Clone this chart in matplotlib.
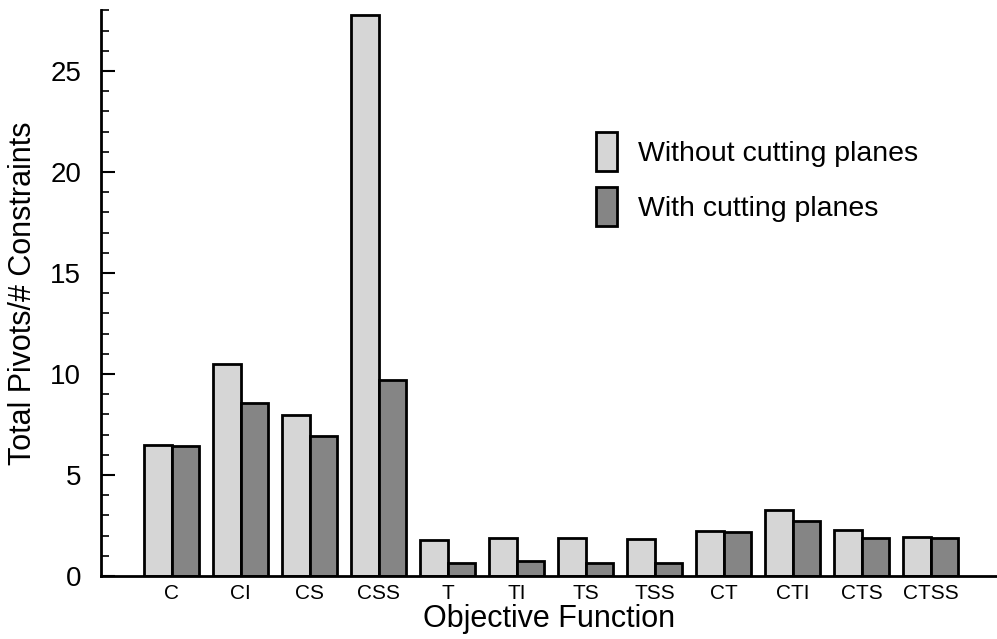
import numpy as np
import matplotlib
matplotlib.use("Agg")
import matplotlib.pyplot as plt
from matplotlib.ticker import MultipleLocator

plt.rcParams['font.family'] = ['Liberation Sans', 'DejaVu Sans']

categories = ["C", "CI", "CS", "CSS", "T", "TI", "TS", "TSS", "CT", "CTI", "CTS", "CTSS"]
without_cp = [6.47, 10.5, 7.95, 27.8, 1.8, 1.88, 1.9, 1.83, 2.25, 3.27, 2.3, 1.93]
with_cp = [6.42, 8.58, 6.93, 9.72, 0.66, 0.73, 0.66, 0.66, 2.17, 2.71, 1.87, 1.9]

x = np.arange(len(categories))
w = 0.4

fig = plt.figure(figsize=(9.97, 6.39), dpi=100)
ax = fig.add_axes([0.101, 0.0986, 0.899, 0.885])

ax.bar(x - w/2, without_cp, w, color="#d6d6d6", edgecolor="black", linewidth=2,
       label="Without cutting planes")
ax.bar(x + w/2, with_cp, w, color="#858585", edgecolor="black", linewidth=2,
       label="With cutting planes")

ax.set_xlim(-1.03, 11.96)
ax.set_ylim(0, 28)
ax.set_xticks(x)
ax.set_xticklabels(categories, fontsize=15)
ax.tick_params(axis="x", length=0, pad=6)
ax.yaxis.set_major_locator(MultipleLocator(5))
ax.yaxis.set_minor_locator(MultipleLocator(1))
ax.tick_params(axis="y", which="major", direction="in", length=10, width=1.5,
               labelsize=20, pad=14)
ax.tick_params(axis="y", which="minor", direction="in", length=6, width=1.2)

for s in ["top", "right"]:
    ax.spines[s].set_visible(False)
ax.spines["left"].set_linewidth(2)
ax.spines["bottom"].set_linewidth(2)

ax.set_ylabel("Total Pivots/# Constraints", fontsize=22)
ax.set_xlabel("Objective Function", fontsize=22)
ax.xaxis.set_label_coords(0.5, -0.05)
ax.yaxis.set_label_coords(-0.07, 0.5)

ax.legend(loc="upper left", bbox_to_anchor=(0.553, 0.785), frameon=False, fontsize=20.5,
          borderpad=0, borderaxespad=0,
          handlelength=0.73, handleheight=1.75, handletextpad=0.75, labelspacing=0.55)

fig.savefig("out.png", dpi=100)
